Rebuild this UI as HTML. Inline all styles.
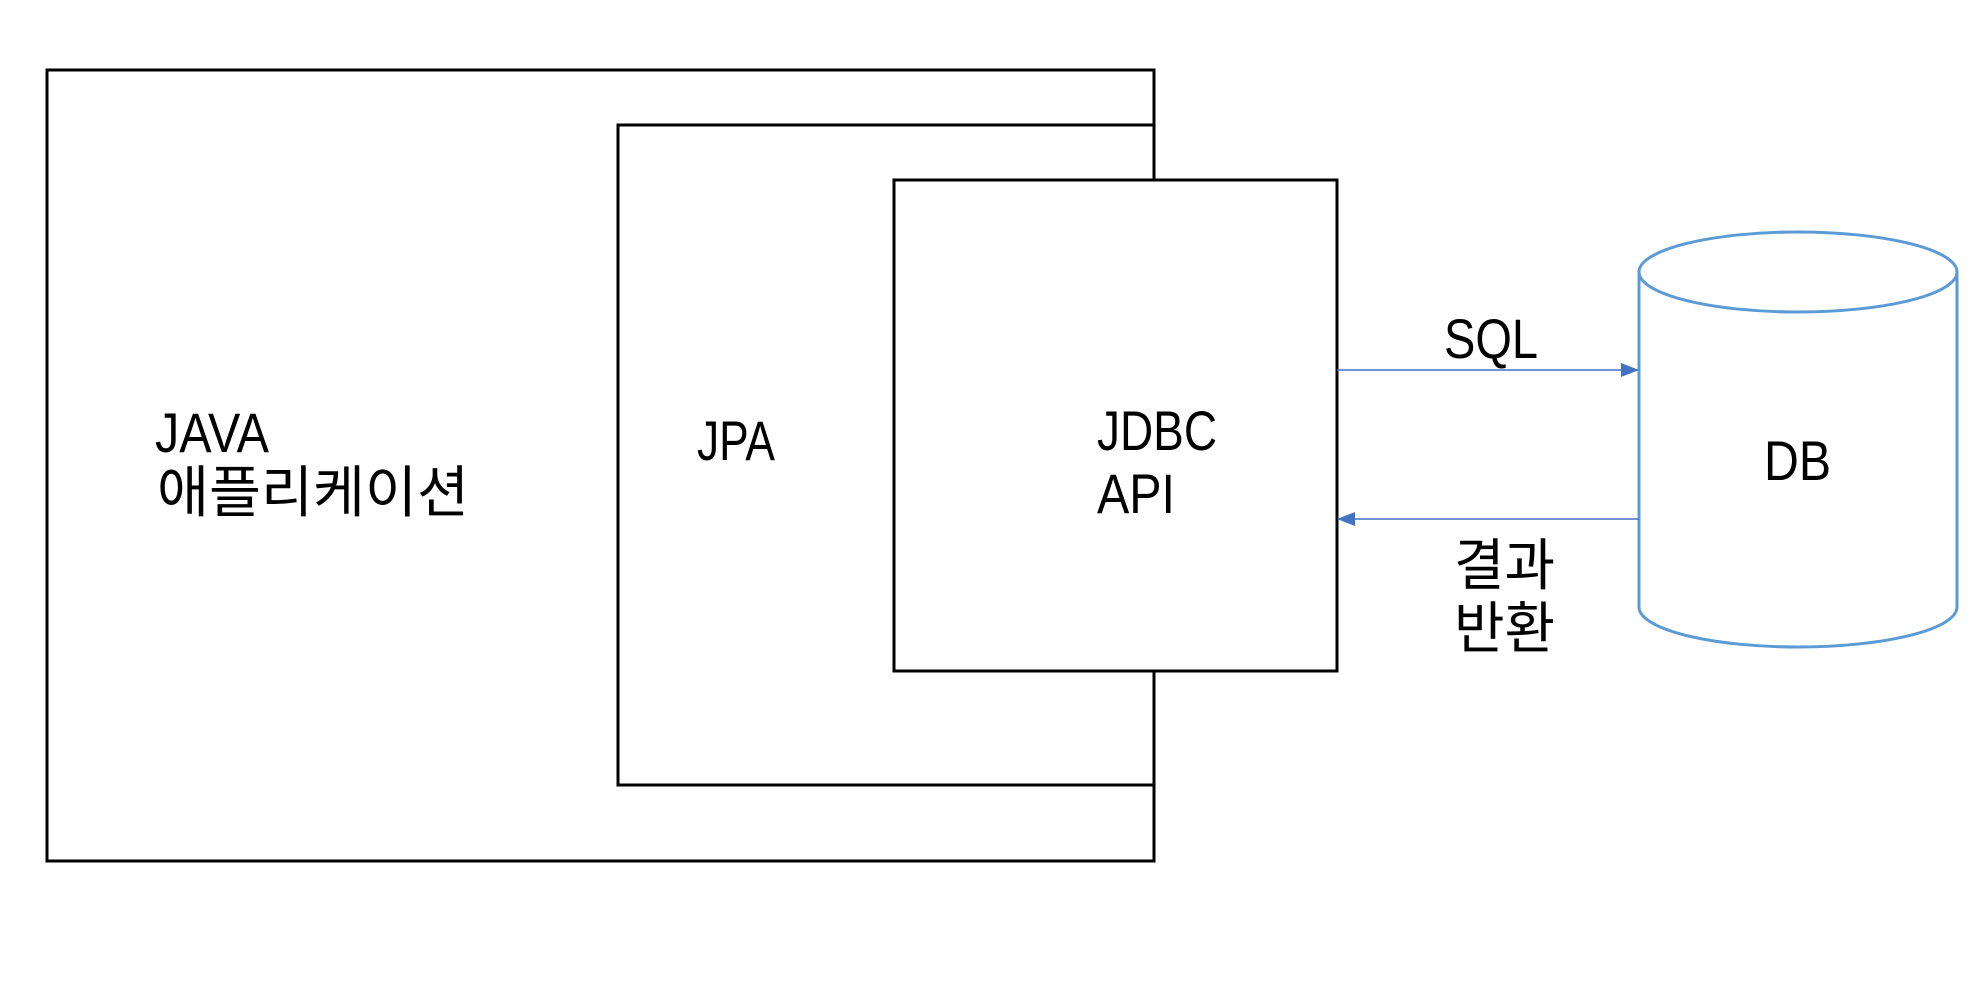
<!DOCTYPE html>
<html><head><meta charset="utf-8"><style>html,body{margin:0;padding:0;background:#fff;}svg{display:block}</style></head>
<body>
<svg width="1986" height="989" viewBox="0 0 1986 989" xmlns="http://www.w3.org/2000/svg">
<defs>
<marker id="ah" markerWidth="18" markerHeight="14" refX="17" refY="7" orient="auto" markerUnits="userSpaceOnUse" viewBox="0 0 18 14">
<path d="M0,0 L18,7 L0,14 z" fill="#4472c4"/>
</marker>
</defs>
<g fill="#fff" stroke="#000" stroke-width="3">
<rect x="47" y="70" width="1107" height="791"/>
<rect x="618" y="125" width="536" height="660"/>
<rect x="894" y="180" width="443" height="491"/>
</g>
<g stroke="#5b9bd5" stroke-width="3" fill="#fff">
<path d="M1639,272 L1639,607 A159,40 0 0 0 1957,607 L1957,272"/>
<ellipse cx="1798" cy="272" rx="159" ry="40"/>
</g>
<g stroke="#4472c4" stroke-width="1.5">
<line x1="1337" y1="370" x2="1638" y2="370" marker-end="url(#ah)"/>
<line x1="1639" y1="519" x2="1338" y2="519" marker-end="url(#ah)"/>
</g>
<g font-family="'Liberation Sans','Noto Sans CJK KR','NanumGothic',sans-serif" font-size="56" fill="#000">
<text x="155" y="452" textLength="114" lengthAdjust="spacingAndGlyphs">JAVA</text>
<text x="157" y="512" textLength="312" lengthAdjust="spacingAndGlyphs">애플리케이션</text>
<text x="697" y="460" textLength="78" lengthAdjust="spacingAndGlyphs">JPA</text>
<text x="1097" y="450" textLength="120" lengthAdjust="spacingAndGlyphs">JDBC</text>
<text x="1097" y="513" textLength="78" lengthAdjust="spacingAndGlyphs">API</text>
<text x="1444" y="358" textLength="94" lengthAdjust="spacingAndGlyphs">SQL</text>
<text x="1454" y="585" textLength="101" lengthAdjust="spacingAndGlyphs">결과</text>
<text x="1454" y="648" textLength="101" lengthAdjust="spacingAndGlyphs">반환</text>
<text x="1764" y="480" textLength="67" lengthAdjust="spacingAndGlyphs">DB</text>
</g>
</svg>
</body></html>
